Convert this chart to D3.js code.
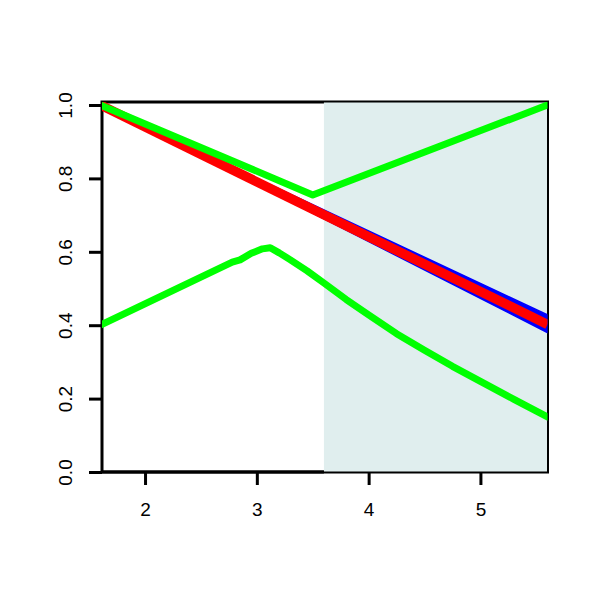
<!DOCTYPE html>
<html>
<head>
<meta charset="utf-8">
<script src="https://cdn.jsdelivr.net/npm/d3@7"></script>
<style>
  body { margin: 0; background: #fff; }
  svg { display: block; }
</style>
</head>
<body>
<svg width="600" height="600"></svg>
<script>
// data
const xTicks = [2, 3, 4, 5]
const yTicks = [0, 0.2, 0.4, 0.6, 0.8, 1.0]
const shadeFrom = 3.6, shadeTo = 5.6

const bandX = [1.6, 5.6]
const bandUpper = [1.0, 0.428]
const bandLower = [1.0, 0.38]
const redX = [1.6, 5.6]
const redY = [1.0, 0.402]

const greenAX = [1.6, 3.5, 5.6]
const greenAY = [1.0, 0.755, 1.0]
const greenBX = [1.6, 2.78, 2.85, 2.95, 3.05, 3.12, 3.2, 3.3, 3.45, 3.6, 3.8, 4.0, 4.25, 4.5, 4.75, 5.0, 5.3, 5.6]
const greenBY = [0.40, 0.572, 0.578, 0.596, 0.608, 0.611, 0.597, 0.578, 0.548, 0.515, 0.47, 0.428, 0.377, 0.332, 0.288, 0.247, 0.198, 0.15]

const svg = d3.select("svg")
const pLeft = 102, pRight = 547.5, pTop = 102, pBottom = 472

const x = d3.scaleLinear().domain([1.615, 5.6]).range([pLeft, pRight])
const y = d3.scaleLinear().domain([0, 1]).range([pBottom, 105])

svg.append("defs").append("clipPath").attr("id", "plot")
  .append("rect").attr("x", pLeft).attr("y", pTop)
  .attr("width", pRight - pLeft).attr("height", pBottom - pTop)

// box
svg.append("rect")
  .attr("x", pLeft).attr("y", pTop)
  .attr("width", pRight - pLeft).attr("height", pBottom - pTop)
  .attr("fill", "none").attr("stroke", "#000").attr("stroke-width", 3)

// shaded region
svg.append("rect")
  .attr("x", x(shadeFrom)).attr("y", pTop + 0.5)
  .attr("width", x(shadeTo) - 0.5 - x(shadeFrom)).attr("height", pBottom - pTop - 1)
  .attr("fill", "#e0eeee")

const g = svg.append("g").attr("clip-path", "url(#plot)")

// blue band
const band = bandX.map((d, i) => ({x: d, lo: bandLower[i], hi: bandUpper[i]}))
g.append("path")
  .attr("d", d3.area().x(d => x(d.x)).y0(d => y(d.lo)).y1(d => y(d.hi))(band))
  .attr("fill", "#0000ff").attr("stroke", "#0000ff").attr("stroke-width", 1.5)

const line = d3.line().x(d => x(d[0])).y(d => y(d[1]))

g.append("path")
  .attr("d", line(d3.zip(redX, redY)))
  .attr("fill", "none").attr("stroke", "#ff0000").attr("stroke-width", 9.5)

g.append("path")
  .attr("d", line(d3.zip(greenAX, greenAY)))
  .attr("fill", "none").attr("stroke", "#00ff00").attr("stroke-width", 7)
  .attr("stroke-linejoin", "round").attr("stroke-linecap", "round")

g.append("path")
  .attr("d", line(d3.zip(greenBX, greenBY)))
  .attr("fill", "none").attr("stroke", "#00ff00").attr("stroke-width", 7)
  .attr("stroke-linejoin", "round").attr("stroke-linecap", "round")

// axes
const xAxis = svg.append("g")
  .attr("transform", `translate(0,${pBottom})`)
  .call(d3.axisBottom(x).tickValues(xTicks).tickFormat(d3.format("d")).tickSize(13).tickPadding(18))
xAxis.select(".domain").remove()
xAxis.selectAll("line").attr("stroke-width", 3)
xAxis.selectAll("text")
  .style("font-family", "'Liberation Sans', Arial, sans-serif")
  .style("font-size", "19px").style("fill", "#000")
xAxis.append("line").attr("x1", pLeft).attr("x2", x(shadeFrom))
  .attr("stroke", "#000").attr("stroke-width", 3)

const yAxis = svg.append("g")
  .attr("transform", `translate(${pLeft},0)`)
  .call(d3.axisLeft(y).tickValues(yTicks).tickFormat(d3.format(".1f")).tickSize(13))
yAxis.select(".domain").remove()
yAxis.selectAll("line").attr("stroke-width", 3)
yAxis.selectAll("text")
  .style("font-family", "'Liberation Sans', Arial, sans-serif")
  .style("font-size", "19px").style("fill", "#000")
  .attr("x", null)
  .attr("text-anchor", "middle")
  .attr("transform", "translate(-36.5,0) rotate(-90)")
  .attr("dy", "0.36em")
</script>
</body>
</html>
